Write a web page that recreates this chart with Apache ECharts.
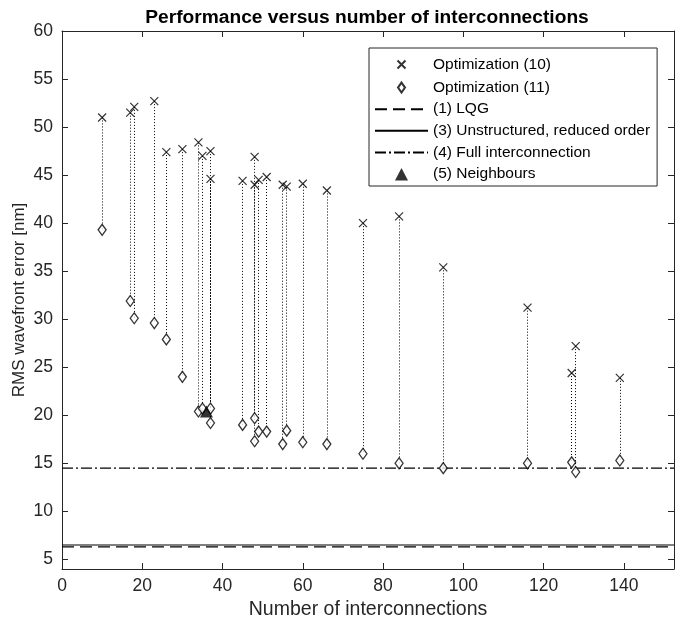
<!DOCTYPE html>
<html>
<head>
<meta charset="utf-8">
<script src="https://cdn.jsdelivr.net/npm/echarts@6/dist/echarts.min.js"></script>
<style>
  html, body { margin: 0; padding: 0; background: #fff; }
  #chart { width: 680px; height: 625px; }
</style>
</head>
<body>
<div id="chart"></div>
<script>
// number of interconnections of each optimized structure
var interconnections = [10, 17, 18, 23, 26, 30, 34, 35, 37, 37, 45, 48, 48, 49, 51, 55, 56, 60, 66, 75, 84, 95, 116, 127, 128, 139];
// RMS wavefront error [nm], optimization (10)
var opt10 = [51.0, 51.5, 52.1, 52.7, 47.4, 47.7, 48.4, 47.0, 47.5, 44.6, 44.4, 46.9, 44.0, 44.5, 44.8, 44.0, 43.8, 44.1, 43.4, 40.0, 40.7, 35.4, 31.2, 24.4, 27.2, 23.9];
// RMS wavefront error [nm], optimization (11)
var opt11 = [39.3, 31.9, 30.1, 29.6, 27.9, 24.0, 20.4, 20.7, 20.7, 19.2, 19.0, 19.7, 17.3, 18.3, 18.3, 17.0, 18.4, 17.2, 17.0, 16.0, 15.0, 14.5, 15.0, 15.1, 14.1, 15.3];
// (5) Neighbours
var neighboursX = [36];
var neighboursY = [20.4];
// horizontal reference levels
var lqgLevel = 6.3;
var unstructuredLevel = 6.5;
var fullLevel = 14.5;
// axes
var xMin = 0, xMax = 152.5;
var yMin = 4, yMax = 60;
var xTicks = [0, 20, 40, 60, 80, 100, 120, 140];
var yTicks = [5, 10, 15, 20, 25, 30, 35, 40, 45, 50, 55, 60];

var FONT = 'Liberation Sans';
var AXIS_COLOR = '#262626';

var pts10 = interconnections.map(function (x, i) { return [x, opt10[i]]; });
var pts11 = interconnections.map(function (x, i) { return [x, opt11[i]]; });
var ptsNb = neighboursX.map(function (x, i) { return [x, neighboursY[i]]; });
var links = interconnections.map(function (x, i) {
  return { coords: [[x, opt10[i]], [x, opt11[i]]] };
});
function level(v) { return [[xMin, v], [xMax, v]]; }

var crossPath = 'path://M0,0L10,10M10,0L0,10';
// padded copies so the legend keeps the marker size small
var crossIcon = 'path://M0,0M14,14M3,3L11,11M11,3L3,11';
var diamondIcon = 'path://M0,0M14,14M7,2L10.5,7L7,12L3.5,7Z';
var triangleIcon = 'path://M0,0M14,14M0.5,13.5L7,1L13.5,13.5Z';

function valueAxis(extra) {
  var base = {
    type: 'value',
    axisLine: { show: true, onZero: false, lineStyle: { color: AXIS_COLOR, width: 1 } },
    axisTick: { show: true, inside: true, length: 6, lineStyle: { color: AXIS_COLOR } },
    splitLine: { show: false },
    axisLabel: { show: false }
  };
  return Object.assign(base, extra);
}

function levelSeries(name, v, dash) {
  return {
    name: name,
    type: 'line',
    symbol: 'none',
    z: 2,
    color: '#000',
    itemStyle: { color: '#000', opacity: 0 },
    lineStyle: { color: '#000', width: 1.2, type: dash },
    data: level(v)
  };
}

var chart = echarts.init(document.getElementById('chart'));
chart.setOption({
  backgroundColor: '#fff',
  animation: false,
  title: {
    text: 'Performance versus number of interconnections',
    left: 362,
    top: 3,
    textAlign: 'center',
    textStyle: { fontFamily: FONT, fontSize: 19.2, fontWeight: 'bold', color: '#000' }
  },
  grid: { left: 62, right: 6, top: 31, bottom: 56, outerBoundsMode: 'none', containLabel: false },
  legend: {
    orient: 'vertical',
    left: 369,
    top: 48,
    padding: [7, 7, 4, 5],
    itemWidth: 53,
    itemHeight: 14,
    itemGap: 5.6,
    borderColor: AXIS_COLOR,
    borderWidth: 1,
    backgroundColor: '#fff',
    textStyle: { fontFamily: FONT, fontSize: 15.5, lineHeight: 16, color: '#000' },
    data: [
      { name: 'Optimization (10)', icon: crossIcon },
      { name: 'Optimization (11)', icon: diamondIcon },
      { name: '(1) LQG' },
      { name: '(3) Unstructured, reduced order' },
      { name: '(4) Full interconnection' },
      { name: '(5) Neighbours', icon: triangleIcon }
    ]
  },
  xAxis: [
    valueAxis({
      min: xMin, max: xMax, position: 'bottom',
      axisTick: { show: true, inside: true, length: 6, lineStyle: { color: AXIS_COLOR }, customValues: xTicks },
      axisLabel: { show: true, customValues: xTicks, margin: 8, fontFamily: FONT, fontSize: 17.5, color: AXIS_COLOR },
      name: 'Number of interconnections',
      nameLocation: 'middle',
      nameGap: 31,
      nameMoveOverlap: false,
      nameTextStyle: { fontFamily: FONT, fontSize: 19.5, color: AXIS_COLOR }
    }),
    valueAxis({
      min: xMin, max: xMax, position: 'top',
      axisTick: { show: true, inside: true, length: 6, lineStyle: { color: AXIS_COLOR }, customValues: xTicks }
    })
  ],
  yAxis: [
    valueAxis({
      min: yMin, max: yMax, position: 'left',
      axisTick: { show: true, inside: true, length: 6, lineStyle: { color: AXIS_COLOR }, customValues: yTicks },
      axisLabel: { show: true, customValues: yTicks, margin: 9, fontFamily: FONT, fontSize: 17.5, color: AXIS_COLOR },
      name: 'RMS wavefront error [nm]',
      nameLocation: 'middle',
      nameGap: 34,
      nameMoveOverlap: false,
      nameTextStyle: { fontFamily: FONT, fontSize: 17, color: AXIS_COLOR }
    }),
    valueAxis({
      min: yMin, max: yMax, position: 'right',
      axisTick: { show: true, inside: true, length: 6, lineStyle: { color: AXIS_COLOR }, customValues: yTicks }
    })
  ],
  series: [
    {
      type: 'lines',
      coordinateSystem: 'cartesian2d',
      silent: true,
      z: 1,
      lineStyle: { color: '#000', width: 1, type: [1, 2], opacity: 1 },
      data: links
    },
    levelSeries('(1) LQG', lqgLevel, [12, 6]),
    levelSeries('(3) Unstructured, reduced order', unstructuredLevel, 'solid'),
    levelSeries('(4) Full interconnection', fullLevel, [11, 3, 2, 3]),
    {
      name: 'Optimization (10)',
      type: 'scatter',
      symbol: crossPath,
      symbolSize: 8,
      z: 3,
      itemStyle: { color: 'none', borderColor: '#000', borderWidth: 1.2 },
      data: pts10
    },
    {
      name: 'Optimization (11)',
      type: 'scatter',
      symbol: 'diamond',
      symbolSize: [8, 11],
      z: 3,
      itemStyle: { color: '#fff', borderColor: '#000', borderWidth: 1.3 },
      data: pts11
    },
    {
      name: '(5) Neighbours',
      type: 'scatter',
      symbol: 'triangle',
      symbolSize: [13, 12],
      z: 4,
      itemStyle: { color: '#000', borderColor: '#000', borderWidth: 0 },
      data: ptsNb
    }
  ]
});
</script>
</body>
</html>
